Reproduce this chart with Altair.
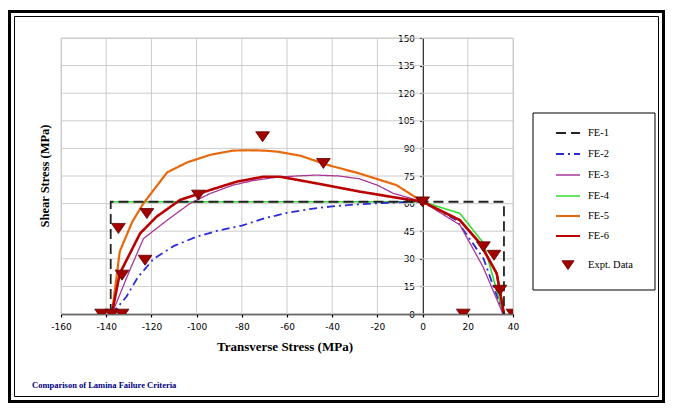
import altair as alt
import pandas as pd

# ---------------- data ----------------
x_ticks = [-160, -140, -120, -100, -80, -60, -40, -20, 0, 20, 40]
y_ticks = [0, 15, 30, 45, 60, 75, 90, 105, 120, 135, 150]

series_names = ["FE-1", "FE-2", "FE-3", "FE-4", "FE-5", "FE-6"]

fe1_x = [-138, -138, 36, 36]
fe1_y = [0, 61, 61, 0]

fe2_x = [-137.5, -131, -126, -119, -110, -100, -90, -80, -70, -60, -50, -40, -30, -20, -10, 0, 15, 27, 35.7]
fe2_y = [0, 9.5, 20, 30, 37, 42, 45.5, 48, 52, 55, 57, 58.5, 59.5, 60.2, 60.7, 61, 51, 30, 0]

fe3_x = [-137.5, -129.5, -123.5, -113, -103, -94, -84, -75, -65, -56, -47, -37, -28, -20, -13, 0, 16.5, 26.7, 35.6]
fe3_y = [0, 24, 41, 51, 60, 65.5, 70, 72.5, 74.3, 75, 75.5, 75, 73.5, 70, 65.6, 61, 48.4, 25.7, 0]

fe4_x = [-138, -100, -50, 0, 16.5, 27, 35.7]
fe4_y = [61, 61, 61, 61, 54.7, 38.4, 0]

fe5_x = [-137.5, -134, -128.5, -123.6, -118, -113, -104, -94, -84, -77, -70, -64, -54, -42, -28, -11.5, 0, 16.5, 25.4, 32.8, 36]
fe5_y = [0, 34, 50, 60, 69, 77, 82.5, 86.5, 88.8, 89, 88.8, 88.2, 86, 81, 76.4, 70, 61, 51, 38.4, 22, 0]

fe6_x = [-137.5, -134, -125, -117.7, -107.3, -94, -82.3, -70.5, -63, -47, -27.7, -10, 0, 16.5, 25.4, 32.8, 36]
fe6_y = [0, 22, 43.8, 52.9, 62, 67.4, 71.9, 74.6, 74.6, 71, 66.5, 62.9, 61, 51, 38.4, 22, 0]

expt_x = [-142, -137.5, -133, -134.6, -133, -122, -122.8, -99.2, -70.8, -43.9, 0, 18, 26.9, 31.6, 34.2, 40]
expt_y = [0, 0, 0, 46.6, 21.2, 54.7, 29.3, 64.7, 96.4, 81.9, 61, 0, 36.6, 32, 13, 0]

legend_labels = ["FE-1", "FE-2", "FE-3", "FE-4", "FE-5", "FE-6", "Expt. Data"]

x_title = "Transverse Stress (MPa)"
y_title = "Shear Stress (MPa)"
caption = "Comparison of Lamina Failure Criteria"

# ---------------- styles ----------------
series_x = [fe1_x, fe2_x, fe3_x, fe4_x, fe5_x, fe6_x]
series_y = [fe1_y, fe2_y, fe3_y, fe4_y, fe5_y, fe6_y]
colors = ["#222222", "#2b2bd6", "#a8399a", "#33dd33", "#e8680c", "#b80000"]
widths = [1.8, 1.8, 1.3, 1.6, 2.2, 2.6]
dashes = [[10, 5], [8, 4, 2, 4], [1, 0], [1, 0], [1, 0], [1, 0]]
draw_order = [3, 1, 2, 4, 5, 0]  # FE-4 under the FE-1 dashes

SERIF = "Liberation Serif, Times New Roman, serif"
W, H = 452, 276
tri = "M-1,-0.7L1,-0.7L0,0.75Z"
tri_fill, tri_stroke = "#a30000", "#5a0000"

xscale = alt.Scale(domain=[-160, 40], nice=False, zero=False)
yscale = alt.Scale(domain=[0, 150], nice=False, zero=False)

common_axis = dict(
    grid=False, title=None, tickSize=3, tickColor="black", tickWidth=1.2,
    domainColor="black", domainWidth=1.5, labelFont="DejaVu Sans",
    labelFontSize=9, labelColor="black", labelPadding=5, labelOverlap=False,
    labelFlush=False, labelExpr="toString(datum.value)",
)
x_axis = alt.Axis(values=x_ticks, **common_axis)
y_axis = alt.Axis(values=y_ticks, offset=-(0 - (-160)) / 200 * W, **common_axis)


def X(f):
    return alt.X(f, scale=xscale, axis=x_axis)


def Y(f):
    return alt.Y(f, scale=yscale, axis=y_axis)


one = pd.DataFrame({"k": [0]})
layers = []

# grid
layers.append(
    alt.Chart(pd.DataFrame({"v": y_ticks})).mark_rule(color="#cccccc", strokeWidth=1)
    .encode(y=Y("v:Q"))
)
layers.append(
    alt.Chart(pd.DataFrame({"v": x_ticks})).mark_rule(color="#cccccc", strokeWidth=1)
    .encode(x=X("v:Q"))
)

# series lines
for i in draw_order:
    df = pd.DataFrame({"x": series_x[i], "y": series_y[i], "o": list(range(len(series_x[i])))})
    layers.append(
        alt.Chart(df).mark_line(color=colors[i], strokeWidth=widths[i], strokeDash=dashes[i])
        .encode(x=X("x:Q"), y=Y("y:Q"), order="o:Q")
    )

# experimental data
layers.append(
    alt.Chart(pd.DataFrame({"x": expt_x, "y": expt_y}))
    .mark_point(shape=tri, filled=True, size=190, fill=tri_fill, stroke=tri_stroke,
                strokeWidth=0.8, opacity=1, clip=True)
    .encode(x=X("x:Q"), y=Y("y:Q"))
)

# axis titles and caption
layers.append(
    alt.Chart(one).mark_text(text=x_title, font=SERIF, fontWeight="bold",
                             fontSize=13, color="black", align="center", baseline="middle")
    .encode(x=alt.value(224), y=alt.value(309))
)
layers.append(
    alt.Chart(one).mark_text(text=y_title, font=SERIF, fontWeight="bold",
                             fontSize=12.5, color="black", align="center", baseline="middle",
                             angle=270)
    .encode(x=alt.value(-16), y=alt.value(138))
)
layers.append(
    alt.Chart(one).mark_text(text=caption, font=SERIF, fontWeight="bold",
                             fontSize=8.5, color="#000080", align="left", baseline="middle")
    .encode(x=alt.value(-29), y=alt.value(347))
)

# legend box
layers.append(
    alt.Chart(one).mark_rect(filled=False, stroke="black", strokeWidth=1)
    .encode(x=alt.value(472), x2=alt.value(594), y=alt.value(75), y2=alt.value(252))
)
leg_y = [95, 116, 137, 158, 178, 198, 227]
for i, lab in enumerate(legend_labels):
    if i < 6:
        layers.append(
            alt.Chart(one).mark_rule(color=colors[i], strokeWidth=min(widths[i], 2),
                                     strokeDash=dashes[i])
            .encode(x=alt.value(495), x2=alt.value(519), y=alt.value(leg_y[i]))
        )
    else:
        layers.append(
            alt.Chart(one).mark_point(shape=tri, filled=True, size=150, fill=tri_fill,
                                      stroke=tri_stroke, strokeWidth=0.8, opacity=1)
            .encode(x=alt.value(507), y=alt.value(leg_y[i]))
        )
    layers.append(
        alt.Chart(one).mark_text(text=lab, font=SERIF, fontSize=10.5,
                                 color="black", align="left", baseline="middle")
        .encode(x=alt.value(527), y=alt.value(leg_y[i]))
    )

# outer double frame
layers.append(
    alt.Chart(one).mark_rect(filled=False, stroke="black", strokeWidth=3)
    .encode(x=alt.value(-51.5), x2=alt.value(602.5), y=alt.value(-26.5), y2=alt.value(363.5))
)
layers.append(
    alt.Chart(one).mark_rect(filled=False, stroke="black", strokeWidth=1)
    .encode(x=alt.value(-46.5), x2=alt.value(597.5), y=alt.value(-21.5), y2=alt.value(358.5))
)

chart = alt.layer(*layers).properties(
    width=W, height=H,
    padding={"left": 53, "top": 30, "right": 152, "bottom": 89},
    autosize=alt.AutoSizeParams(type="none"),
    background="white",
).configure_view(stroke="#cccccc", strokeWidth=1)

chart.save("out.html", embed_options={"renderer": "svg", "actions": False})
